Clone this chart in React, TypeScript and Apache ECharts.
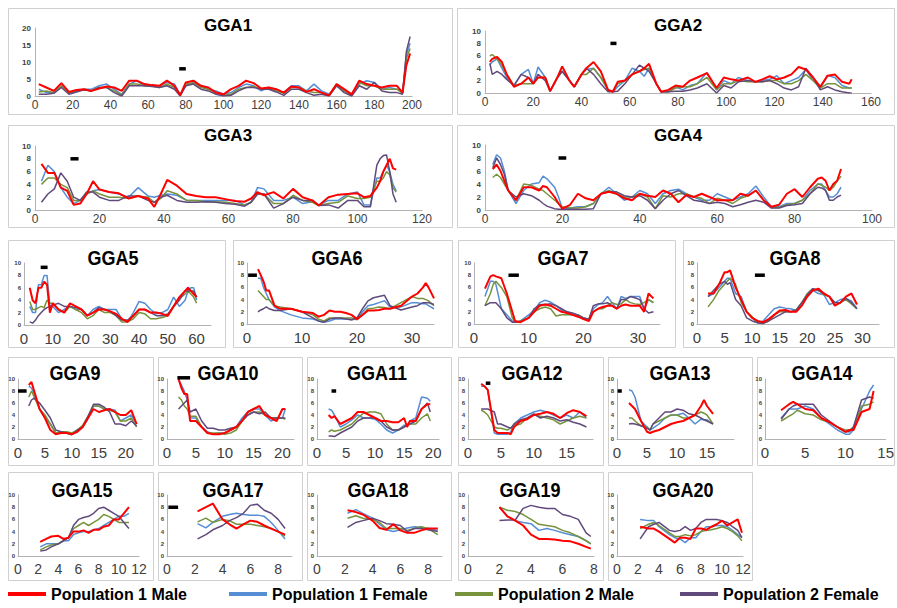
import React, { useEffect, useRef } from 'react';
import * as echarts from 'echarts';

const SERIES_NAMES = ['Population 1 Male', 'Population 1 Female', 'Population 2 Male', 'Population 2 Female'];
const COLORS = ['#ff0000', '#558ed5', '#77933c', '#604a7b'];

// ---------- GGA1 ----------
const gga1X = [2,6,10,14,18,22,26,30,34,38,42,46,50,54,58,62,66,70,74,77,80,84,88,92,96,100,104,108,112,116,120,124,128,132,136,140,144,148,152,156,160,164,168,172,176,180,184,188,192,195,197,199];
const gga1P1M = [3.5,2.5,1.5,3.8,1.2, 1.8,2,1.5,2.2,2.8, 2.5,1.5,4.5,4.5,3.5, 3.2,3,4.5,3,0.2, 4,4.5,3,2.5,1, 0.5,2,3,4.5,3.8, 2.2,2.5,2,1,2.8, 2.5,1.2,2,1,0.2, 3.5,2,0.5,4.5,3.5, 3,2.5,3,3,1, 9,12.5];
const gga1P1F = [2,1,1,3,1, 1.5,2,2,3,3.5, 2,0.5,3.5,4.5,3, 3,3,4,3.5,0.5, 3,4,3,2,1.5, 0.5,1,2.5,3.5,3, 1.5,2.5,2,1,3, 3,1.5,3.5,1.5,0.5, 3,1.5,0.5,3.5,4.5, 4,2,2.5,2,1, 12,15.5];
const gga1P2M = [1.2,1.5,1,3,0.8, 1.5,1.8,1.5,2.5,2.5, 1.5,0.3,3.5,3.5,3, 3,2.5,3.5,2.5,0.3, 3.5,3.8,2.5,2,1, 0.2,0.5,2,2.5,2.8, 2,2.2,1.5,0.8,2.5, 2.5,1.5,1,1,0.3, 3.5,1.5,0.2,4,3, 3,2,2,2,0.8, 11,14];
const gga1P2F = [0.5,0.5,0.8,2.5,0.5, 1.2,1.8,1.5,2.5,2.5, 1,0,3,3,3, 2.8,2.5,3,2,0, 3,3.5,2,1.5,0.5, 0,0.2,1.5,2.5,2.5, 2,2,1.2,0.2,2, 2,1,0.2,0.5,0, 3,1,0,3,2, 4,1.5,1,1,0.5, 13,17.5];
const gga1Bar = [[76.5, 8], [80, 8]];

// ---------- GGA2 ----------
const gga2X = [2,3,5,7,9,12,15,18,20,22,25,27,30,32,35,37,40,42,45,48,51,53,55,58,61,64,66,68,71,73,76,79,82,85,88,92,96,99,102,105,109,112,115,118,121,124,127,130,133,136,139,142,145,148,151,152];
const gga2P1M = [5,5.5,5.8,5,3, 1,1.5,2.5,1.5,2.5, 2.5,0.3,2.5,4.3,2, 1,3,4,5,3.5, 0.5,0.2,1.8,2,3, 3.5,4,4.7,1.5,0.2, 0.5,1.2,1,2,2.5, 3.2,0.8,2.5,2.2,2, 2.5,1.8,2.2,2.7,2.2, 2.5,3,4.2,3.8,2.5, 1,2.8,3,1.8,1.5, 2.2];
const gga2P1F = [4.5,5,5.5,4,2.5, 1.2,3,3.8,1.5,4.2, 2.5,0.3,2.5,3.5,2, 1,3,3.8,4,2.5, 0.5,0.2,1,2,4, 3.5,2.7,4,1.5,0.2, 0.2,1,0.5,1.2,1.5, 3.3,0.5,2,1.5,2.5, 2,1.8,2,2.2,2.8, 1.5,2,2.5,3.8,2, 0.8,2.8,2.5,1.2,0.8, 0.8];
const gga2P2M = [6,6.2,5.5,4.5,3, 1.2,1.5,1.5,1.5,2.5, 2.5,0.3,2.5,3.5,2, 1,3,3,4,2.5, 0.5,0.2,1.5,2,3, 3.5,3.8,4,1.5,0.2, 0.2,0.8,1,1,1.5, 2.5,0.5,1.5,1.5,2, 1.8,1.8,1.8,2,2, 1.5,1.5,2,3,2, 0.8,1.5,1.5,0.8,0.8, 0.8];
const gga2P2F = [4.8,3,3.5,3,2.2, 1.2,3,2.5,1.5,3, 2,0.3,2.5,3.5,2, 1,3,4,3,1.5, 0.2,0.2,0.3,1.5,3, 4.5,4,3.5,1.5,0.2, 0.2,0.3,0.3,0.5,0.8, 1.5,0,1.2,0.8,1.8, 2,1.8,1.8,2,1.5, 0.8,0.5,1,4,2.5, 0.5,1,0.5,0.2,0, 0];
const gga2Bar = [[52, 8], [54.5, 8]];

// ---------- GGA3 ----------
const gga3X = [2,4,6,8,10,12,14,16,18,20,23,26,29,32,35,37,39,41,44,47,50,53,56,59,62,65,67,69,71,74,77,80,83,86,88,91,94,97,100,102,104,106,107,108,109,110,111,112];
const gga3P1M = [7.2,5.8,5.8,3.5,3, 0.8,1,2.5,4.5,3.2, 2.8,2.6,1.8,2.2,1.8, 0.5,2.5,4.7,3.8,2.5, 2.2,2,2,1.7,1.4, 1.3,1.8,2.8,2.3,2.8, 1.8,3.3,2,1.5,0.7, 2,2.4,2.5,2.6,2, 2.2,3.5,4.5,6,7, 8,6.5,6.3];
const gga3P1F = [4.5,7,6,3.5,2, 1,1.5,2.5,3,3.2, 2.8,2.5,2,3.5,2.2, 2,2.3,2.5,2.3,1.5, 1.5,1.5,1.5,1.5,1.5, 0.8,1.2,3.5,3.3,1.5, 1.5,2,1,1.3,0.8, 1.5,1.5,2.5,2.8,0.8, 0.8,5,5,6,7, 6,4,3];
const gga3P2M = [4,5,5,4,3.5, 1.5,1.5,2.5,3,2.5, 2,2,1.8,2.2,2, 1.2,1.8,3,2.5,1.5, 1.5,1.3,1.3,1.2,1, 0.8,1.2,2.5,2.5,1, 1,2.3,1.5,1.2,0.7, 1,1.2,2.2,1.8,1.8, 2,4.5,4.5,5,6, 5.5,3.5,2.8];
const gga3P2F = [1.2,2.5,3.3,5.8,4.5, 2,1.5,2.8,2.8,2, 1.5,1.5,2.2,2.2,1.5, 1.2,2,2.3,1.5,1.2, 1.2,1.3,1.2,1,0.9, 0.6,1.2,2.5,2.5,0.3, 1,2,1.5,1.5,0.7, 0.8,0.3,1.5,1.5,0.5, 0.5,7,8,8.5,8.6, 6,2.5,1.2];
const gga3Bar = [[11, 8], [13.5, 8]];

// ---------- GGA4 ----------
const gga4X = [2,3,4,5,6,8,10,12,14,15,16,18,19,20,22,24,26,28,30,32,34,36,38,40,42,44,46,48,50,52,54,56,58,60,62,64,66,68,70,72,74,76,78,80,82,84,86,87,88,89,90,91,92];
const gga4P1M = [6.3,7,6,4.5,3, 1.5,3.5,3.5,3,3.7, 3.5,2,1,0.2,0.8, 2.5,1.8,1.5,2.5,2.8, 2.5,1.8,1.5,2.5,2.2, 2,3,2.5,1.2,2.3, 2,2.5,2,1.5,1.5, 1.5,2.5,2.2,3,1.5, 0.5,0.8,2.5,3.2,2, 3.5,4.8,5,4.5,3, 4,4.5,6.3];
const gga4P1F = [7,8.5,8,6,3, 1,3,4,4.2,5.2, 4.8,3.5,2,0.2,0.3, 0.5,0.5,1,2.5,3.5, 2.5,1.5,2,3,2.5, 1,2.5,3,3.2,2.5, 2,1.5,1.5,2.5,2, 1.5,2,2.5,3.7,2, 0.5,0.5,1,1,1.5, 3,4,4,3,2, 2,2.5,3.5];
const gga4P2M = [5,5.5,5,4,3, 1.5,4,3.8,3.2,3, 2.5,1.5,1,0.5,0.3, 0.3,0.5,1,2.5,3, 2.5,2,2,2.5,2, 0.2,2.2,2,2.5,2.5, 2,1.8,1,1.8,1.5, 1,1.8,2.2,3,1.5, 0.4,0.4,0.8,1,1.5, 2.5,4,3.8,3.5,3, 3.5,4.5,5.2];
const gga4P2F = [6.5,8,7,5.5,3, 2,2.5,2.2,1.5,1, 0.6,0.2,0.1,0.1,0.1, 0.1,0.1,0.2,2.5,2.8, 2.8,2.2,2,2.2,1.5, 0.2,1.5,2.5,3,2.2, 1.5,1.3,1,1.2,1, 0.5,0.8,1.2,1.5,1.2, 0.3,0.3,0.7,0.8,1, 2.5,3.5,3.4,3,1.5, 1.5,2,2.3];
const gga4Bar = [[19, 8], [21, 8]];

// ---------- GGA5 ----------
const gga5X = [2,3,4,5,6,7,8,9,10,12,14,16,18,20,22,24,26,28,30,32,34,36,38,40,42,44,46,48,50,52,54,56,57,58,59,60];
const gga5P1M = [6,4,3.5,6,6,7,6.5,2,3.5, 2.5,2,3.5,3,2.5,1.5,2,2.5,2.5,2.2,1.8,1,0.5,1.5,2.5,2.5,2,2,1.8,1.5,3,4.5,5.5, 6,5.5,5,4.5];
const gga5P1F = [3,2,2,6.5,6.5,8,8,3,3, 2,2.5,3,2.5,2.5,1.5,2.5,3,2.5,2.5,2.5,1,0.5,2,3.8,3.5,2.5,1.8,2,2.5,4.5,3,4, 5.5,6,6,4];
const gga5P2M = [3.8,2.5,2.5,2.8,3,2.8,4,3.5,3.5, 2.5,2,3,2.5,2,1,1.5,2.5,2,2,1.5,0.5,0.5,1,2,1.8,1,1,1.2,1.5,3,4.2,5, 5.5,5,4.5,3.5];
const gga5P2F = [0.5,0.3,0.8,1.5,2,2.5,2.8,3,3.2, 3.5,3,3,2.8,2.5,1.5,2,2.8,2.5,2.2,1.5,0.8,0.8,1.5,2.5,2.5,2,1.5,1.5,1.8,3,4,5.5, 5.5,5.5,5.5,4.5];
const gga5Bar = [[5.8, 9.3], [8.2, 9.3]];

// ---------- GGA6 ----------
const gga6X = [2,2.5,3,3.5,4,5,6,8,10,12,13,14,15,16,17,18,19,20,21,22,23,24,25,26,28,30,31,32,32.5,33,34];
const gga6P1M = [9,8,7,5.5,5.5, 3,2.5,2.5,2,1.8, 1.2,1.5,2.2,2,2, 1.8,1.5,0.8,1.5,2.2, 2.2,2.3,2.5,2.5,3, 4.5,5,6,6.7,6, 4.2];
const gga6P1F = [7.5,7.5,6,5,4, 2.8,2.2,1.5,1,0.8, 0.5,0.3,0.5,0.8,0.8, 0.8,0.7,0.8,2,3, 3.2,3.5,3.8,2.8,2.8, 3.5,3.5,3.3,3.3,3, 2.5];
const gga6P2M = [5.5,5,4.5,4,4, 3,2.8,2.5,2,1.5, 0.8,0.5,1,1,1, 1,1,0.7,1.5,2.5, 2.6,2.8,2.7,2.5,3.5, 4.5,4.2,4.2,4,3.8, 3];
const gga6P2F = [2,2.3,2.5,2.8,2.5, 2.2,2.2,2.5,2,1, 0.5,0.3,0.8,1,1, 0.8,0.7,1,2.5,3.8, 4.3,4.5,4.7,3,2.3, 2.8,3,3.5,3.5,3.5, 3.2];
const gga6Bar = [[0.2, 8], [1.8, 8]];

// ---------- GGA7 ----------
const gga7X = [2,3,3.5,4,5,6,7,7.5,8.5,10,11,12,13,14,15,16,17,18,19,20,21,21.8,22.7,23.5,24.4,25.2,26.1,26.9,27.7,28.6,29.4,30.3,31.1,31.9,32.8];
const gga7P1M = [5.8,7.8,8,7.8,7.5, 5,2,0.5,0.3,1, 2,3,3.2,3,2.5, 2,1.8,1.5,1.2,0.8, 0.5,2,2.5,2.8,3, 3,2.5,3,3.2,3, 3,3,2,5,4.2];
const gga7P1F = [4.5,7,7,6.5,2.5, 1.5,0.5,0.3,0.5,1.5, 2.2,3.5,3.9,3.6,3, 2.3,2,1.6,1.3,1, 0.8,2.5,3.2,3.5,4.5, 3.5,2.5,4.5,4.2,4.5, 4.5,4.5,2.5,4,3.5];
const gga7P2M = [3,5,6.5,7,6, 4.5,1,0.3,0.5,1, 2,2.5,2.8,2.5,1.3, 1.5,1.5,1.5,1.5,1, 0.8,2,2.5,2.5,3, 3.5,3.2,3.3,4,3.5, 3.3,3.2,3.5,4,3.5];
const gga7P2F = [3,3.5,3.5,3.5,2.5, 1,0.3,0.3,0.4,1, 2.5,3.2,3.2,3.3,3, 2.5,2,1.8,1.5,1, 0.8,3,3.3,3.3,3.5, 3,2.5,4,4,4.5, 4.3,4,2.5,1.8,2];
const gga7Bar = [[6.3, 8], [8.2, 8]];

// ---------- GGA8 ----------
const gga8X = [2,3,4,5,5.5,6,7,8,9,10,11,12,13,14,15,16,17,18,19,20,21,22,23,24,25,26,27,28,29];
const gga8P1M = [5,5,6.5,8.5,8.5, 8.8,6,4,2,1, 0.5,0.3,0.8,1.5,2.2, 2.3,2,2,3,4.5, 5.5,5.8,5,4.5,3, 3.5,4.5,5,3.2];
const gga8P1F = [4.5,5,6,7,7.5, 7.5,5,4.5,2,1, 0.2,0.5,1.5,2.5,2.8, 2.6,2.5,2.2,3.5,4.5, 5.5,5,4.8,3.2,3.5, 4,4.2,3.8,2.5];
const gga8P2M = [2.8,4,5.5,6.5,7, 7.5,6.5,3.5,2,1.2, 0.2,0.1,0.5,1.5,2, 2,2,2.3,3.5,5, 5.8,5.5,4.8,4.5,3.5, 3.5,4,3.3,2.5];
const gga8P2F = [4.5,5.5,6.5,7,6.5, 6.8,4,3,1,0.5, 0.2,0.1,0.5,1,1.5, 2,2,2.3,3.5,4.8, 5.8,5.5,5,4.5,3.5, 3.5,4.2,3.5,2.5];
const gga8Bar = [[10.5, 8], [12.3, 8]];

// ---------- GGA9 ----------
const gga9X = [2,2.5,3,4,5,6,7,8,9,10,11,12,13,14,15,16,17,18,19,20,21,22];
const gga9P1M = [9,9.5,8,5,3.5, 1.5,0.8,1,1,0.8, 1.2,2,3.5,5,4.5, 4.8,5,4.5,4,4, 4.8,2.5];
const gga9P1F = [8.8,8.5,7.5,5,3.5, 2.5,1,1,1,0.8, 1.2,2,3.5,5.5,5.5, 5,5,4.8,3,3.5, 4,2.5];
const gga9P2M = [7,8,7,5,4, 2.5,1,1.2,1.2,1, 1.5,2.3,3.8,5.5,5.5, 5,4.8,4.5,3,3, 3.5,2];
const gga9P2F = [5.5,6.5,6.8,6,4.8, 3.5,1.5,1.2,1,0.7, 1.5,2,3.8,5.8,5.8, 5.3,4.5,2.5,2.5,2.2, 3,2.2];
const gga9Bar = [[0, 8], [1.6, 8]];

// ---------- GGA10 ----------
const gga10X = [2,2.5,3,3.5,4,5,6,7,8,9,10,11,12,13,14,15,16,17,18,19,20,20.5];
const gga10P1M = [10,8.5,7.5,7.5,3, 3,2,1,0.8,0.8, 1,1.5,2,3,4.5, 5,5.5,4,3.5,3, 5,5];
const gga10P1F = [10,9,8,6.5,3.5, 3.5,2,1.2,0.8,1, 1,1.5,2,3.5,4.5, 5,5,4,3,3.5, 3.5,5];
const gga10P2M = [7,6.5,5.5,5,3.8, 3.8,2,1,1,1, 0.8,1,1.5,3,4, 4.5,4.5,4,3.5,3.5, 3.5,3.3];
const gga10P2F = [5,5.5,6,6.5,4.5, 5,3,1.8,1.8,1.5, 1.5,1.8,2,3,4, 4.5,4.2,4.5,3.5,3.5, 3.5,3.5];
const gga10Bar = [[1.8, 10.2], [4, 10.2]];

// ---------- GGA11 ----------
const gga11X = [2,2.5,3,4,5,6,7,8,9,10,11,12,13,14,15,15.5,16,17,18,19,19.5];
const gga11P1M = [4,3.5,3.8,2.5,3, 3.5,4.5,4.5,4,3.5, 3,3,2.8,2.8,3.5, 2,3,3,5,5.8, 5.8];
const gga11P1F = [5,4.8,4,2,2.5, 3.2,4,3.5,3.5,3.3, 2.5,1.5,1,1.5,2.3, 2.3,3,3.5,7,6.8, 6.3];
const gga11P2M = [1.2,1.5,1.3,1.5,2, 2.5,3.5,4.3,4.5,4.5, 4.2,2.5,1.5,1.5,2, 2.3,2.5,2.5,3.5,4.2, 3];
const gga11P2F = [0.5,0.5,0.4,1,1.5, 2,3,3.5,3.5,3.5, 3,2,1.5,1.5,2, 2.3,2.5,3,5,6, 4.5];
const gga11Bar = [[2.5, 8], [3.3, 8]];

// ---------- GGA12 ----------
const gga12X = [2,2.5,3,4,4.5,5,6,6.5,7,8,9,10,11,12,13,14,15,16,17,18];
const gga12P1M = [9.2,8.8,8.2,1.5,1, 1,1,0.8,2,3, 3.3,4,4.2,4.5,4.2, 3.5,4.3,4.8,4.5,3.8];
const gga12P1F = [8.8,8.8,8.2,1,0.8, 0.8,0.8,1.2,2.5,3.5, 4,4.5,4.8,4.5,4, 3.5,4,3.5,4.5,3.5];
const gga12P2M = [4.8,4.5,4,2,1.8, 1.8,1.5,1.8,2.2,2.5, 3.5,4,3.8,3.5,3.2, 2.5,3,3.5,3.8,3.5];
const gga12P2F = [5,5,5,4.5,2.5, 2.5,2,1.8,2.5,3.2, 3.5,4.2,3.5,3.8,3.5, 3,3.2,2.8,2.5,2];
const gga12Bar = [[2.7, 9.3], [3.4, 9.3]];

// ---------- GGA13 ----------
const gga13X = [2,2.5,3,4,5,5.5,6,7,8,9,10,11,12,13,14,14.5,15,16];
const gga13P1M = [6,5.5,5,3,1.2, 1,1.2,1.5,2,2.5, 2.8,3,3.5,4,5.5, 6.5,5.5,4.2];
const gga13P1F = [8.2,8,7,3,2, 1.5,1.8,2.5,3.5,4, 4,4.3,3.5,2.5,3.3, 3.2,3.2,2.5];
const gga13P2M = [3.5,3.5,3,2.2,2, 1.5,2.5,3,3.5,4, 4,3.5,3.5,4,4.5, 4.3,4,2.5];
const gga13P2F = [2.5,2.6,2.5,2.2,1.8, 1.5,2.5,3.5,4.5,4.5, 5,4.8,4.2,4,3.5, 3.2,3,2.5];
const gga13Bar = [[0.1, 8], [0.8, 8]];

// ---------- GGA14 ----------
const gga14X = [2,3,3.5,4,5,6,7,8,9,10,10.5,11,12,13,13.5];
const gga14P1M = [4.8,5.8,6.2,5.8,5, 4.8,3.5,2.8,2,1.2, 1.5,1.5,4.5,5,8];
const gga14P1F = [3.5,5,5,5,5.5, 5,3.5,2.5,1.5,0.8, 0.8,1.5,5,8,9];
const gga14P2M = [3,3.8,4.2,4.8,4.2, 4,3.2,2.8,2,1.5, 1.5,2,5.5,5.8,6.2];
const gga14P2F = [3.3,5,5.5,5.8,5.8, 5.8,4,3,2,1.2, 1.2,2,6.5,7,6.8];

// ---------- GGA15 ----------
const gga15X = [2.2,2.8,3.3,4,4.5,5,5.5,6,6.5,7,7.5,8,8.5,9,9.5,10,10.5,11];
const gga15P1M = [2.3,2.8,3.2,3.3,2.8, 3,4,4,4.2,3.8, 4.3,4.3,4.8,5,6, 6,7,8];
const gga15P1F = [1.5,2,2,2,2.5, 2.5,3.5,3.8,4,4, 4.3,4.5,5,5.5,6, 6.5,6.5,7];
const gga15P2M = [1,1.5,1.8,2,2.5, 3,4.5,5,5.5,5, 5.5,6,6.8,6.5,6, 5.5,5.5,5.5];
const gga15P2F = [0.8,1,1.5,2,2.5, 3,5,6,6.3,6.5, 7,7.8,8,7.5,7, 6.5,5.5,4.5];

// ---------- GGA17 ----------
const gga17X = [2.2,2.8,3.3,4,4.5,5,5.5,6,6.5,7,7.5,8,8.5];
const gga17P1M = [7.3,8,8.6,6,5.2, 4.5,5.2,5.8,5.6,5, 4.5,4,3.5];
const gga17P1F = [5.3,4.6,5.5,6.5,6.8, 7,6.8,6.7,6.7,6.5, 5.5,4.2,2.8];
const gga17P2M = [5.6,6.2,5.5,6,5.8, 5.2,5.2,5.2,5,4.8, 4.5,4,3.3];
const gga17P2F = [2.8,3.5,4.3,5,5.8, 6.3,7,8.3,8.5,7.5, 7,6,4.5];
const gga17Bar = [[0.1, 8], [0.8, 8]];

// ---------- GGA18 ----------
const gga18X = [2.2,2.8,3.3,4,4.5,5,5.5,6,6.5,7,7.5,8,8.7];
const gga18P1M = [7.5,7.2,6.8,5.8,4.6, 4.3,5.2,4.2,3.8,3.8, 4.2,4.5,4.5];
const gga18P1F = [7,7.6,7,6.2,5.2, 4.3,4,4.3,4.6,4.8, 4.7,4.5,4.2];
const gga18P2M = [6.2,6.6,6.2,6,5.5, 4.5,4.5,4.5,4.2,4.5, 4.8,4.5,3.5];
const gga18P2F = [4.7,5.5,5.8,6.2,5.8, 5.3,5.2,5,4,4.5, 4.5,4.3,4];

// ---------- GGA19 ----------
const gga19X = [2,2.5,3,3.5,4,4.5,5,5.5,6,6.5,7,7.5,7.8];
const gga19P1M = [8,6.5,5.8,5,3.5, 2.8,2.8,2.7,2.5,2.4, 2,1.5,1.2];
const gga19P1F = [8,6.5,5.8,5.5,5.3, 4.2,4.5,4.2,3.8,3.5, 3.2,2.5,2];
const gga19P2M = [8,7.5,7.3,6.8,6, 5.2,5,4.8,4.2,3.8, 3.2,2.5,2];
const gga19P2F = [5.8,5.9,5.9,7.8,8.3, 8,7.8,7.8,6.8,6.5, 6,3.8,3.2];

// ---------- GGA20 ----------
const gga20X = [2.2,3,3.5,4,5,5.5,6,6.5,7,7.5,8,8.5,9,9.5,10,10.5,11,11.5,11.9];
const gga20P1M = [4.8,4.5,4.5,4,2.8, 2.2,3,3,2.8,4.5, 4.5,4.3,4.8,5.2,5.8, 5,5.5,6,3.8];
const gga20P1F = [6,5.8,5.8,4.8,3.5, 3,2.8,2.2,3,3, 4,4.8,4.8,5,5, 4.8,4.2,3.5,3];
const gga20P2M = [4.5,5.2,5.5,5,3.8, 3.2,3.2,3.5,3.3,3.5, 4,4.2,4.3,4.5,4.8, 4.5,4,3.3,2.5];
const gga20P2F = [2.8,4.8,5.2,5.5,4.2, 4,4.2,4.8,4.2,4.5, 5.5,6,6,6,5.8, 5.5,4.8,4.2,3];

// ---------- layout (positions & styles only) ----------
type Panel = {
  title: string; x: number[]; s: number[][]; bar: number[][] | null;
  box: number[]; grid: number[]; xMax: number; xInt: number; yMax: number; yInt: number;
  tx: number; ty: number; row: number;
};

const PANELS: Panel[] = [
  { title: 'GGA1', x: gga1X, s: [gga1P1M, gga1P1F, gga1P2M, gga1P2F], bar: gga1Bar, box: [8, 8, 444, 106], grid: [35, 28, 377, 68], xMax: 200, xInt: 20, yMax: 20, yInt: 5, tx: 228, ty: 25, row: 1 },
  { title: 'GGA2', x: gga2X, s: [gga2P1M, gga2P1F, gga2P2M, gga2P2F], bar: gga2Bar, box: [457, 8, 437, 106], grid: [485, 31, 386, 62], xMax: 160, xInt: 20, yMax: 10, yInt: 2, tx: 678, ty: 25, row: 1 },
  { title: 'GGA3', x: gga3X, s: [gga3P1M, gga3P1F, gga3P2M, gga3P2F], bar: gga3Bar, box: [8, 125, 444, 102], grid: [35, 146, 387, 64], xMax: 120, xInt: 20, yMax: 10, yInt: 2, tx: 228, ty: 135, row: 2 },
  { title: 'GGA4', x: gga4X, s: [gga4P1M, gga4P1F, gga4P2M, gga4P2F], bar: gga4Bar, box: [457, 125, 437, 102], grid: [485, 145, 387, 65], xMax: 100, xInt: 20, yMax: 10, yInt: 2, tx: 678, ty: 135, row: 2 },

  { title: 'GGA5', x: gga5X, s: [gga5P1M, gga5P1F, gga5P2M, gga5P2F], bar: gga5Bar, box: [8, 240, 217, 107], grid: [24, 263, 187, 62], xMax: 65, xInt: 10, yMax: 10, yInt: 2, tx: 113, ty: 258, row: 3 },
  { title: 'GGA6', x: gga6X, s: [gga6P1M, gga6P1F, gga6P2M, gga6P2F], bar: gga6Bar, box: [233, 240, 219, 107], grid: [247, 263, 187, 61], xMax: 34, xInt: 10, yMax: 10, yInt: 2, tx: 337, ty: 258, row: 3 },
  { title: 'GGA7', x: gga7X, s: [gga7P1M, gga7P1F, gga7P2M, gga7P2F], bar: gga7Bar, box: [458, 240, 217, 107], grid: [474, 263, 186, 61], xMax: 34, xInt: 10, yMax: 10, yInt: 2, tx: 563, ty: 258, row: 3 },
  { title: 'GGA8', x: gga8X, s: [gga8P1M, gga8P1F, gga8P2M, gga8P2F], bar: gga8Bar, box: [683, 240, 211, 107], grid: [697, 263, 182, 61], xMax: 33, xInt: 5, yMax: 10, yInt: 2, tx: 795, ty: 258, row: 3 },

  { title: 'GGA9', x: gga9X, s: [gga9P1M, gga9P1F, gga9P2M, gga9P2F], bar: gga9Bar, box: [8, 357, 145, 108], grid: [18, 379, 124, 60], xMax: 23, xInt: 5, yMax: 10, yInt: 2, tx: 75, ty: 373, row: 4 },
  { title: 'GGA10', x: gga10X, s: [gga10P1M, gga10P1F, gga10P2M, gga10P2F], bar: gga10Bar, box: [158, 357, 144, 108], grid: [167, 379, 127, 60], xMax: 22, xInt: 5, yMax: 10, yInt: 2, tx: 228, ty: 373, row: 4 },
  { title: 'GGA11', x: gga11X, s: [gga11P1M, gga11P1F, gga11P2M, gga11P2F], bar: gga11Bar, box: [307, 357, 144, 108], grid: [317, 379, 122, 60], xMax: 21, xInt: 5, yMax: 10, yInt: 2, tx: 377, ty: 373, row: 4 },
  { title: 'GGA12', x: gga12X, s: [gga12P1M, gga12P1F, gga12P2M, gga12P2F], bar: gga12Bar, box: [458, 357, 145, 108], grid: [468, 379, 125, 60], xMax: 19, xInt: 5, yMax: 10, yInt: 2, tx: 532, ty: 373, row: 4 },
  { title: 'GGA13', x: gga13X, s: [gga13P1M, gga13P1F, gga13P2M, gga13P2F], bar: gga13Bar, box: [608, 357, 144, 108], grid: [617, 379, 117, 60], xMax: 19.5, xInt: 5, yMax: 10, yInt: 2, tx: 680, ty: 373, row: 4 },
  { title: 'GGA14', x: gga14X, s: [gga14P1M, gga14P1F, gga14P2M, gga14P2F], bar: null, box: [757, 357, 137, 108], grid: [765, 379, 128, 60], xMax: 15, xInt: 5, yMax: 10, yInt: 2, tx: 822, ty: 373, row: 4 },

  { title: 'GGA15', x: gga15X, s: [gga15P1M, gga15P1F, gga15P2M, gga15P2F], bar: null, box: [8, 472, 145, 108], grid: [18, 495, 121, 61], xMax: 12, xInt: 2, yMax: 10, yInt: 2, tx: 82, ty: 490, row: 5 },
  { title: 'GGA17', x: gga17X, s: [gga17P1M, gga17P1F, gga17P2M, gga17P2F], bar: gga17Bar, box: [158, 472, 144, 108], grid: [167, 495, 125, 61], xMax: 9, xInt: 2, yMax: 10, yInt: 2, tx: 233, ty: 490, row: 5 },
  { title: 'GGA18', x: gga18X, s: [gga18P1M, gga18P1F, gga18P2M, gga18P2F], bar: null, box: [307, 472, 144, 108], grid: [317, 495, 125, 61], xMax: 9, xInt: 2, yMax: 10, yInt: 2, tx: 378, ty: 490, row: 5 },
  { title: 'GGA19', x: gga19X, s: [gga19P1M, gga19P1F, gga19P2M, gga19P2F], bar: null, box: [458, 472, 145, 108], grid: [468, 495, 126, 61], xMax: 8, xInt: 2, yMax: 10, yInt: 2, tx: 530, ty: 490, row: 5 },
  { title: 'GGA20', x: gga20X, s: [gga20P1M, gga20P1F, gga20P2M, gga20P2F], bar: null, box: [608, 472, 144, 108], grid: [617, 495, 126, 61], xMax: 12, xInt: 2, yMax: 10, yInt: 2, tx: 683, ty: 490, row: 5 },
];

const LEGEND_LEFT = [8, 229, 455, 680];
const FONT = 'Liberation Sans, Arial, sans-serif';
const AXIS_COLOR = '#b3b3b3';
const X_LABEL_SIZE: Record<number, number> = { 1: 12, 2: 12, 3: 15, 4: 15, 5: 14 };

function buildOption() {
  const grid = PANELS.map(p => ({ left: p.grid[0], top: p.grid[1], width: p.grid[2], height: p.grid[3] }));
  const xAxis = PANELS.map((p, i) => ({
    type: 'value', gridIndex: i, min: 0, max: p.xMax, interval: p.xInt,
    axisLine: { show: true, onZero: false, lineStyle: { color: AXIS_COLOR, width: 1 } },
    axisTick: { show: false },
    splitLine: { show: false },
    axisLabel: {
      fontFamily: FONT, fontSize: X_LABEL_SIZE[p.row], color: '#404040', margin: p.row <= 2 ? 3 : 6,
      formatter: (v: number) => (Math.abs(v / p.xInt - Math.round(v / p.xInt)) < 1e-6 ? String(v) : ''),
    },
  }));
  const yAxis = PANELS.map((p, i) => ({
    type: 'value', gridIndex: i, min: 0, max: p.yMax, interval: p.yInt,
    axisLine: { show: true, lineStyle: { color: AXIS_COLOR, width: 1 } },
    axisTick: { show: false },
    splitLine: { show: false },
    axisLabel: { fontFamily: FONT, fontSize: p.row <= 2 ? 8 : 6, fontWeight: 'bold', color: '#404040', margin: p.row <= 2 ? 4 : 3 },
  }));
  const series: any[] = [];
  PANELS.forEach((p, i) => {
    p.s.forEach((vals, k) => {
      series.push({
        type: 'line', name: SERIES_NAMES[k], xAxisIndex: i, yAxisIndex: i,
        data: p.x.map((xv, j) => [xv, vals[j]]),
        showSymbol: false, symbol: 'none', silent: true,
        z: k === 0 ? 3 : 2,
        lineStyle: { color: COLORS[k], width: k === 0 ? 2 : 1.5 },
        itemStyle: { color: COLORS[k] },
        emphasis: { disabled: true },
      });
    });
    if (p.bar) {
      series.push({
        type: 'line', name: 'marker', xAxisIndex: i, yAxisIndex: i, data: p.bar,
        showSymbol: false, symbol: 'none', silent: true, clip: false, z: 4,
        lineStyle: { color: '#000', width: 3.5 }, emphasis: { disabled: true },
      });
    }
  });
  const graphic: any[] = [];
  PANELS.forEach(p => {
    graphic.push({
      type: 'rect', silent: true, z: -1,
      shape: { x: p.box[0] + 0.5, y: p.box[1] + 0.5, width: p.box[2], height: p.box[3] },
      style: { fill: '#fff', stroke: '#d0d0d0', lineWidth: 1 },
    });
    graphic.push({
      type: 'text', silent: true, x: p.tx, y: p.ty, scaleY: p.row <= 2 ? 1 : 1.1,
      style: { text: p.title, font: `bold ${p.row <= 2 ? 17 : 18}px ${FONT}`, fill: '#000', textAlign: 'center', textVerticalAlign: 'middle' },
    });
  });
  const legend = SERIES_NAMES.map((n, k) => ({
    data: [n], left: LEGEND_LEFT[k], top: 585, icon: 'rect', itemWidth: 38, itemHeight: 4, itemGap: 4,
    padding: 0, selectedMode: false,
    textStyle: { fontFamily: 'Liberation Sans Narrow, Arial Narrow, Liberation Sans, sans-serif', fontSize: 16, lineHeight: 18, fontWeight: 'bold', color: '#000' },
  }));
  return { animation: false, backgroundColor: '#fff', grid, xAxis, yAxis, series, graphic, legend };
}

export default function App() {
  const ref = useRef<HTMLDivElement>(null);
  useEffect(() => {
    document.body.style.margin = '0';
    const chart = echarts.init(ref.current as HTMLDivElement, null, { renderer: 'svg' });
    chart.setOption(buildOption() as any);
    return () => chart.dispose();
  }, []);
  return <div ref={ref} style={{ position: 'absolute', left: 0, top: 0, width: 897, height: 608, background: '#fff' }} />;
}
